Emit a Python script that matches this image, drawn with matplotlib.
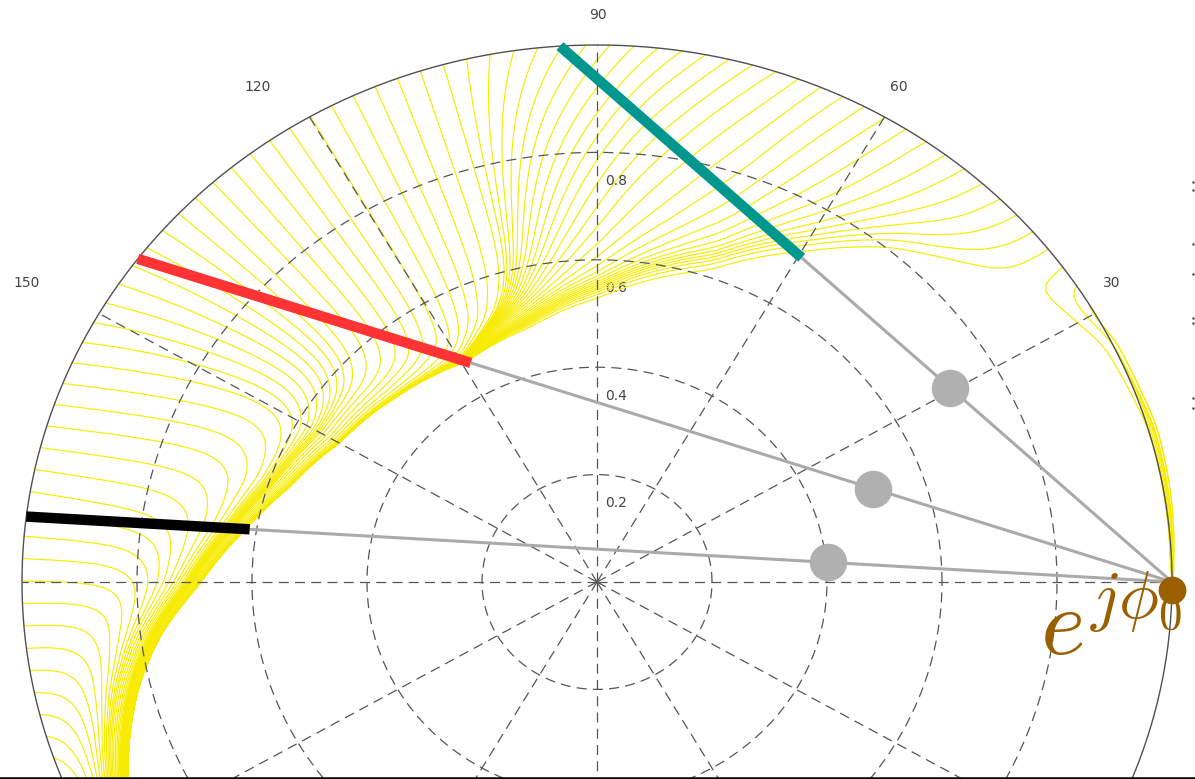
import numpy as np
import matplotlib
matplotlib.use("Agg")
import matplotlib.pyplot as plt

plt.rcParams['mathtext.fontset'] = 'cm'

# ---------------- data ----------------
RING_R = [0.2, 0.4, 0.6, 0.8]
RING_LABELS = ['0.2', '0.4', '0.6', '0.8']
SPOKE_DEG = [0, 30, 60, 90, 120, 150, 180, 210, 240, 270, 300, 330]
ANGLE_LABEL_DEG = [30, 60, 90, 120, 150]
ANGLE_LABELS = ['30', '60', '90', '120', '150']

# inner edge (envelope) of the yellow band
ENV_DEG = [-30, 0, 1.8, 16.7, 26.6, 32.2, 39.5, 50.9, 59.5, 71.4, 89.5, 104.0,
           118.9, 135.3, 149.9, 161.7, 170.6, 180.2, 187.6, 193.3, 199.0, 204.0, 215.0, 300]
ENV_R = [1.0, 1.0, 0.993, 0.986, 0.965, 0.925, 0.863, 0.780, 0.696, 0.599, 0.521, 0.483,
         0.468, 0.490, 0.517, 0.563, 0.617, 0.690, 0.767, 0.817, 0.859, 0.893, 0.950, 1.0]

# far-field tilt of the yellow lines (deg of turn per unit of approach)
TILT_DEG = [0, 40, 55, 82, 95, 105, 135, 143, 153, 162, 170, 180, 300]
TILT_VAL = [0, 0, 28, 73, 40, 0, 0, -12, -22, -12, 0, 0, 0]
# sliding speed along the envelope (sign = direction)
SLIDE_DEG = [-30, 0, 18, 37, 55, 80, 100, 112, 119, 128, 140, 160, 185, 210, 260, 300]
SLIDE_VAL = [0, 0, -450, 0, 500, 550, 280, 100, 60, 120, 300, 450, 450, 400, 0, 0]
N_LINES = 150
FIRST_LINE_DEG = 2.3

PHI0_DEG = 0.0
CHORD_DEG = [93.7, 143.0, 173.0]
CHORD_ENV_FRAC = [0.605, 0.678, 0.805]
CHORD_DOT_FRAC = [0.362, 0.289, 0.300]
CHORD_COLORS = ['#00978f', '#ff3333', '#000000']

# ---------------- figure ----------------
W, H = 1195, 779
CX, CY, SX, SY = 597.0, 582.0, 575.0, 537.0
fig = plt.figure(figsize=(W / 100, H / 100), dpi=100)
ax = fig.add_axes([0, 0, 1, 1])
ax.set_xlim(-CX / SX, (W - CX) / SX)
ax.set_ylim(-(H - CY) / SY, CY / SY)
ax.axis('off')


def px(xp, yp):
    return (xp - CX) / SX, (CY - yp) / SY


# envelope function (smoothed)
psi_grid = np.arange(-30, 300.001, 0.25)
R_lin = np.interp(psi_grid, ENV_DEG, ENV_R)
k = 13
R_s = np.convolve(np.pad(R_lin, k // 2, mode='edge'), np.ones(k) / k, mode='valid')


def R_env(p):
    return np.interp(p, psi_grid, R_s)


def G0(p):
    return np.interp(p, SLIDE_DEG, SLIDE_VAL)


def tilt(p):
    return np.interp(p, TILT_DEG, TILT_VAL)


LAM, DELTA, DELTA_S = 0.04, 0.075, 0.04
step = 360.0 / N_LINES
theta0 = FIRST_LINE_DEG + step * np.arange(-4, int(262 / step))
d = np.clip(1.0 - R_env(theta0), 0, None)
psi = theta0.copy()


def deriv(p, d):
    near = np.minimum(1.0, d / DELTA)
    slide = np.exp(-np.maximum(d - DELTA_S, 0.0) / LAM)
    return tilt(p) * near + G0(p) * slide, -near


dt, nsteps = 0.0002, 7000
TR, TP = [R_env(psi) + d], [psi.copy()]
for i in range(nsteps):
    p1, d1 = deriv(psi, d)
    p2, d2 = deriv(psi + 0.5 * dt * p1, d + 0.5 * dt * d1)
    psi = psi + dt * p2
    d = np.maximum(d + dt * d2, 0.0)
    if i % 3 == 2:
        TR.append(R_env(psi) + d)
        TP.append(psi.copy())
TR = np.array(TR)
TP = np.radians(np.array(TP))
for j in range(len(theta0)):
    ax.plot(TR[:, j] * np.cos(TP[:, j]), TR[:, j] * np.sin(TP[:, j]),
            color='#f7ec00', lw=0.85, zorder=2, solid_capstyle='round')

# grid
t = np.linspace(0, 2 * np.pi, 1441)
dash = (0, (8, 5))
for rr in RING_R:
    ax.plot(rr * np.cos(t), rr * np.sin(t), color='#555555', lw=0.9, ls=dash, zorder=3)
for a in SPOKE_DEG:
    ar = np.radians(a)
    ax.plot([0, np.cos(ar)], [0, np.sin(ar)], color='#555555', lw=0.9, ls=dash, zorder=3)
ax.plot(np.cos(t), np.sin(t), color='#505050', lw=1.0, zorder=3)

for rr, lab in zip(RING_R, RING_LABELS):
    ax.text(0.014, rr - 0.053, lab, fontsize=10, color='#444444', ha='left', va='center',
            zorder=1 if lab == '0.6' else 4)

label_pos = {30: (1112, 283), 60: (899, 87), 90: (598, 15), 120: (258, 87), 150: (27, 283)}
for a, lab in zip(ANGLE_LABEL_DEG, ANGLE_LABELS):
    x, y = px(*label_pos[a])
    ax.text(x, y, lab, fontsize=10, color='#444444', ha='center', va='center', zorder=4)

# chords from e^{j phi0}
p0 = np.array([np.cos(np.radians(PHI0_DEG)), np.sin(np.radians(PHI0_DEG))])
for a, fe, fd, c in zip(CHORD_DEG, CHORD_ENV_FRAC, CHORD_DOT_FRAC, CHORD_COLORS):
    p1 = np.array([np.cos(np.radians(a)), np.sin(np.radians(a))])
    pe = p0 + fe * (p1 - p0)
    pd = p0 + fd * (p1 - p0)
    ax.plot([p0[0], pe[0]], [p0[1], pe[1]], color='#aaaaaa', lw=2.2, zorder=5,
            solid_capstyle='butt')
    ax.plot([pe[0], p1[0]], [pe[1], p1[1]], color=c, lw=7.5, zorder=6,
            solid_capstyle='butt')
    ax.plot(pd[0], pd[1], 'o', ms=27, color='#b0b0b0', mec='none', zorder=7)

ax.plot(p0[0], p0[1] - 0.014, 'o', ms=20, color='#9a6000', mec='none', zorder=8)
x, y = px(1182, 655)
ax.text(x, y, r'$e^{j\phi_0}$', fontsize=69, color='#9a6000', ha='right', va='baseline',
        zorder=9)

# cut-off marks at the right edge and bottom border
for yp in [182, 190, 244, 274, 318, 323, 398, 408]:
    x, y = px(1193, yp)
    ax.plot(x, y, 's', ms=1.6, color='#222222', mec='none', zorder=4)
ax.axhline(px(0, 777.5)[1], color='black', lw=1.8, zorder=10)

fig.savefig('out.png', dpi=100)
